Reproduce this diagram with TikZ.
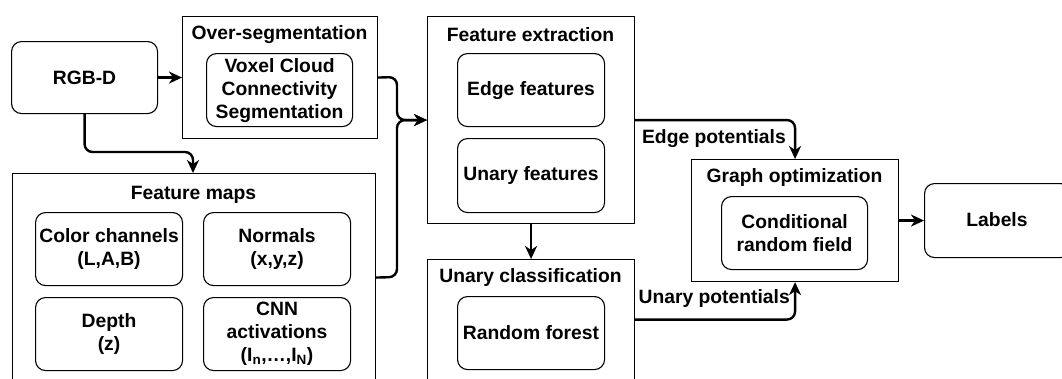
\documentclass[tikz,border=0pt]{standalone}
\usepackage{fontspec}
\setmainfont{Liberation Sans}
\usetikzlibrary{arrows.meta}
\begin{document}
\begin{tikzpicture}[x=1pt,y=-1pt,
  every node/.style={font=\fontsize{19.3}{23}\selectfont\bfseries, inner sep=0pt},
  outerbox/.style={draw, line width=1.1pt, anchor=north west},
  innerbox/.style={draw, line width=1.1pt, rounded corners=10pt, anchor=north west},
  ttl/.style={anchor=center},
  txt/.style={align=center},
  conn/.style={line width=2.4pt, rounded corners=8pt, -{Stealth[length=13pt,width=12pt,inset=4pt]}},
  lbl/.style={anchor=east}
]
\useasboundingbox (0,0) rectangle (1062,378);
\clip (0,0) rectangle (1062,378);
\fill[white] (0,0) rectangle (1062,378);

% RGB-D
\node[innerbox, minimum width=146, minimum height=72] (rgbd) at (11,41) {};
\node[txt] (rgbdt) at (rgbd.center) {RGB-D};

% Over-segmentation
\node[outerbox, minimum width=195, minimum height=122] (os) at (182,16) {};
\node[ttl] (ost) at (279.5,35) {Over-segmentation};
\node[innerbox, minimum width=146, minimum height=73] (vccs) at (206,53) {};
\node[txt] (vccst) at (vccs.center) {Voxel Cloud\\Connectivity\\Segmentation};

% Feature maps
\node[outerbox, minimum width=363, minimum height=208] (fm) at (12,173) {};
\node[ttl] (fmt) at (193.5,195) {Feature maps};
\node[innerbox, minimum width=147, minimum height=73] (cc) at (35,212) {};
\node[txt] (cct) at (cc.center) {Color channels\\(L,A,B)};
\node[innerbox, minimum width=147, minimum height=73] (nm) at (203,212) {};
\node[txt] (nmt) at (nm.center) {Normals\\(x,y,z)};
\node[innerbox, minimum width=147, minimum height=73] (dp) at (35,297) {};
\node[txt] (dpt) at (dp.center) {Depth\\(z)};
\node[innerbox, minimum width=147, minimum height=73] (cnn) at (203,297) {};
\node[txt] (cnnt) at (cnn.center) {CNN\\activations\\(I\textsubscript{n},…,I\textsubscript{N})};

% Feature extraction
\node[outerbox, minimum width=207, minimum height=207] (fe) at (427,16) {};
\node[ttl] (fet) at (530.5,35) {Feature extraction};
\node[innerbox, minimum width=147, minimum height=73] (ef) at (457,53) {};
\node[txt] (eft) at (ef.center) {Edge features};
\node[innerbox, minimum width=147, minimum height=74] (uf) at (457,138) {};
\node[txt] (uft) at (uf.center) {Unary features};

% Unary classification
\node[outerbox, minimum width=207, minimum height=120] (uc) at (427,259) {};
\node[ttl] (uct) at (530.5,278) {Unary classification};
\node[innerbox, minimum width=147, minimum height=73] (rf) at (457,296) {};
\node[txt] (rft) at (rf.center) {Random forest};

% Graph optimization
\node[outerbox, minimum width=207, minimum height=122] (go) at (691,159) {};
\node[ttl] (got) at (794.5,178) {Graph optimization};
\node[innerbox, minimum width=146, minimum height=73] (crf) at (721,196) {};
\node[txt] (crft) at (crf.center) {Conditional\\random field};

% Labels
\node[innerbox, minimum width=146, minimum height=74] (lab) at (924,183) {};
\node[txt] (labt) at (997,220) {Labels};

% coordinates
\coordinate (j1) at (397,77);
\coordinate (j2) at (397,277);
\coordinate (d1) at (193,152);

% connectors
\draw[conn] (rgbd.east) -- (os.west);
\draw[conn] (rgbd.south) |- (d1) -- (d1 |- fm.north);
\draw[conn] (os.east) -- (j1) |- (fe.west);
\draw[conn] (fm.east) -- (j2) |- (fe.west);
\draw[conn] (fe.south) -- (uc.north);
\draw[conn] (fe.east) -| (go.north);
\draw[conn] (uc.east) -| (go.south);
\draw[conn] (go.east) -- (lab.west);

% connector labels
\node[lbl] (elbl) at (786,139) {Edge potentials};
\node[lbl] (ulbl) at (790,299) {Unary potentials};
\end{tikzpicture}
\end{document}
